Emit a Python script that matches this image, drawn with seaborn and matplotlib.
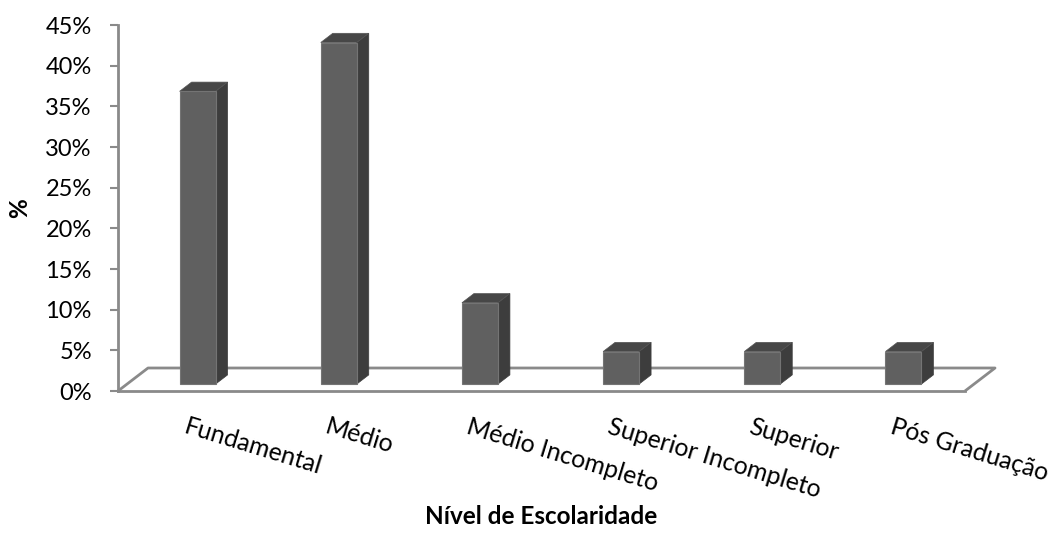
import numpy as np
import pandas as pd
import seaborn as sns
import matplotlib.pyplot as plt
from matplotlib.patches import Polygon
from matplotlib.lines import Line2D

# Dados: distribuição por nível de escolaridade
categorias = ["Fundamental", "Médio", "Médio Incompleto",
              "Superior Incompleto", "Superior", "Pós Graduação"]
percentuais = [36, 42, 10, 4, 4, 4]
ticks_y = [0, 5, 10, 15, 20, 25, 30, 35, 40, 45]
rotulos_y = [f"{t}%" for t in ticks_y]

sns.set_theme(style="white")
plt.rcParams["font.family"] = ["Lato", "DejaVu Sans"]

DPI = 100
W, H = 1049, 540
fig = plt.figure(figsize=(W / DPI, H / DPI), dpi=DPI)
fig.patch.set_facecolor("white")
ax = fig.add_axes([118 / W, 149 / H, 847 / W, 366 / H])

df = pd.DataFrame({"nivel": categorias, "pct": percentuais})
sns.barplot(data=df, x="nivel", y="pct", color="#606060", saturation=1,
            width=0.255, edgecolor="#747474", linewidth=0.8, ax=ax, zorder=3)

ax.set_xlim(-0.5, 5.5)
ax.set_ylim(0, 45)
ax.set_facecolor("white")

# Profundidade do "piso" em pixels (dx, dy para cima)
PISO = np.array([30.0, 23.0])
FRENTE = 0.3 * PISO      # face frontal das barras
FUNDO = 0.4 * PISO       # espessura das barras

COR_EIXO = "#8a8a8a"
COR_LADO = "#3d3d3d"
COR_TOPO = "#474747"

to_disp = ax.transData.transform
to_data = ax.transData.inverted().transform

# Piso em perspectiva: borda traseira e diagonais
p_esq = to_disp((-0.5, 0))
p_dir = to_disp((5.5, 0))
contorno = np.array([p_esq, p_esq + PISO, p_dir + PISO, p_dir])
contorno = to_data(contorno)
ax.add_line(Line2D(contorno[:, 0], contorno[:, 1], color=COR_EIXO, lw=2.0,
                   clip_on=False, zorder=1, solid_capstyle="butt"))

# Barras em 3D: desloca a face frontal e acrescenta lateral e topo
for barra in list(ax.patches):
    x, y = barra.get_x(), barra.get_y()
    w, h = barra.get_width(), barra.get_height()
    (x0, y0) = to_disp((x, y)) + FRENTE
    (x1, y1) = to_disp((x + w, y + h)) + FRENTE
    nx, ny = to_data((x0, y0))
    nx1, ny1 = to_data((x1, y1))
    barra.set_xy((nx, ny))
    barra.set_width(nx1 - nx)
    barra.set_height(ny1 - ny)
    barra.set_clip_on(False)
    dx, dy = FUNDO
    lado = to_data(np.array([(x1, y0), (x1, y1), (x1 + dx, y1 + dy), (x1 + dx, y0 + dy)]))
    topo = to_data(np.array([(x0, y1), (x1, y1), (x1 + dx, y1 + dy), (x0 + dx, y1 + dy)]))
    ax.add_patch(Polygon(lado, closed=True, facecolor=COR_LADO, edgecolor=COR_LADO,
                         lw=0.5, zorder=2.9, clip_on=False))
    ax.add_patch(Polygon(topo, closed=True, facecolor=COR_TOPO, edgecolor="#555555",
                         lw=0.5, zorder=2.9, clip_on=False))

# Eixos
for lado_sp in ["top", "right"]:
    ax.spines[lado_sp].set_visible(False)
for lado_sp in ["left", "bottom"]:
    ax.spines[lado_sp].set_color(COR_EIXO)
    ax.spines[lado_sp].set_linewidth(2.0)
ax.spines["bottom"].set_zorder(1)

ax.set_yticks(ticks_y)
ax.set_yticklabels(rotulos_y)
ax.tick_params(axis="y", left=True, length=5.8, width=1.5, color=COR_EIXO,
               pad=13, labelsize=17, labelcolor="black")
ax.tick_params(axis="x", bottom=False, length=0, pad=17, labelsize=17.8,
               labelcolor="black")
plt.setp(ax.get_xticklabels(), rotation=-17, ha="left", va="top",
         rotation_mode="anchor")

ax.set_ylabel("%", fontsize=17.5, fontweight="bold", color="black")
ax.yaxis.label.set_va("center")
ax.yaxis.set_label_coords(-0.116, 0.5)
ax.set_xlabel("Nível de Escolaridade", fontsize=17.5, fontweight="bold", color="black")
ax.xaxis.label.set_va("center")
ax.xaxis.set_label_coords(0.5, -0.344)

fig.savefig("out.png", dpi=DPI, facecolor="white")
